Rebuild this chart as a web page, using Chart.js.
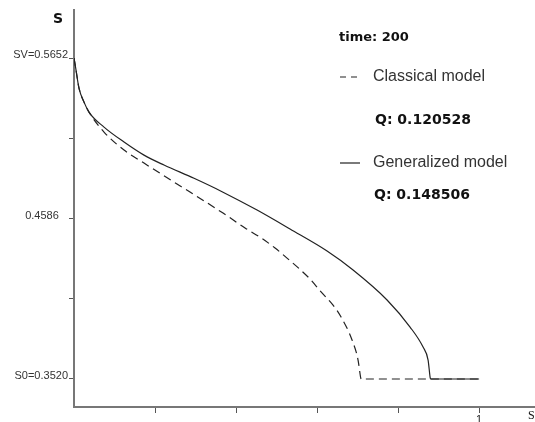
<!DOCTYPE html>
<html>
<head>
<meta charset="utf-8">
<script src="https://cdn.jsdelivr.net/npm/chart.js@4.4.1/dist/chart.umd.min.js"></script>
<style>
  html, body { margin: 0; padding: 0; background: #fff; }
  #wrap { width: 535px; height: 422px; position: relative; }
</style>
</head>
<body>
<div id="wrap"><canvas id="myChart"></canvas></div>
<script>
// values (x, S)
const classicalX = [0, 0.0042, 0.0123, 0.0247, 0.037, 0.0741, 0.1235, 0.1728, 0.2469, 0.2864, 0.3679, 0.4222, 0.4642, 0.4963, 0.5259, 0.5827, 0.6099, 0.6395, 0.6593, 0.6864, 0.7012, 0.7074, 0.7086, 1.0];
const classicalY = [0.5652, 0.5585, 0.5452, 0.5359, 0.5293, 0.5160, 0.5041, 0.4954, 0.4828, 0.4762, 0.4622, 0.4523, 0.4453, 0.4390, 0.4323, 0.4184, 0.4098, 0.4011, 0.3932, 0.3779, 0.3646, 0.3533, 0.3520, 0.3520];

const generalX = [0, 0.0042, 0.0123, 0.0247, 0.037, 0.0741, 0.1235, 0.1728, 0.2222, 0.2963, 0.3679, 0.4519, 0.5333, 0.6247, 0.6889, 0.7728, 0.8296, 0.8617, 0.8741, 0.879, 0.880, 1.0];
const generalY = [0.5652, 0.5585, 0.5452, 0.5359, 0.5293, 0.5193, 0.5094, 0.5007, 0.4941, 0.4853, 0.4761, 0.4642, 0.4516, 0.4370, 0.4244, 0.4045, 0.3865, 0.3732, 0.3646, 0.3533, 0.3520, 0.3520];

const yTicks = [0.3520, 0.4053, 0.4586, 0.5119, 0.5652];
const yTickLabels = ['S0=0.3520', '', '0.4586   ', '', 'SV=0.5652'];
const xTicks = [0.2, 0.4, 0.6, 0.8, 1];
const xTickLabels = ['', '', '', '', '1'];

const timeText = 'time: 200';
const classicalName = 'Classical model';
const classicalQ = 'Q: 0.120528';
const generalName = 'Generalized model';
const generalQ = 'Q: 0.148506';

function toPoints(xs, ys) {
  return xs.map((x, i) => ({ x: x, y: ys[i] }));
}

const textPlugin = {
  id: 'texts',
  afterDraw(chart) {
    const c = chart.ctx;
    c.save();
    c.fillStyle = '#111';
    c.textBaseline = 'middle';
    c.font = 'bold 14px "DejaVu Sans"';
    c.fillText('S', 53, 19);
    c.font = '12px "Liberation Serif"';
    c.fillText('S', 528, 416);

    c.font = 'bold 13px "DejaVu Sans"';
    c.fillText(timeText, 339, 38);

    c.strokeStyle = '#222';
    c.lineWidth = 1.2;
    c.setLineDash([6, 5]);
    c.beginPath(); c.moveTo(340, 77); c.lineTo(361, 77); c.stroke();
    c.setLineDash([]);
    c.beginPath(); c.moveTo(340, 163); c.lineTo(360, 163); c.stroke();

    c.fillStyle = '#333';
    c.font = '16px "Liberation Sans"';
    c.fillText(classicalName, 373, 77);
    c.fillText(generalName, 373, 163);

    c.fillStyle = '#111';
    c.font = 'bold 14px "DejaVu Sans"';
    c.fillText(classicalQ, 375, 120);
    c.fillText(generalQ, 374, 195);
    c.restore();
  }
};

const ctx = document.getElementById('myChart');
let myChart = new Chart(ctx, {
  type: 'line',
  data: {
    datasets: [{
      label: classicalName,
      data: toPoints(classicalX, classicalY),
      borderColor: '#222',
      borderWidth: 1.2,
      borderDash: [8, 5],
      pointRadius: 0,
      cubicInterpolationMode: 'monotone',
      fill: false
    }, {
      label: generalName,
      data: toPoints(generalX, generalY),
      borderColor: '#222',
      borderWidth: 1.2,
      pointRadius: 0,
      cubicInterpolationMode: 'monotone',
      fill: false
    }]
  },
  options: {
    responsive: true,
    maintainAspectRatio: false,
    animation: false,
    events: [],
    layout: { padding: { top: 10, right: 0, left: 0, bottom: 0 } },
    plugins: { legend: { display: false }, tooltip: { enabled: false } },
    scales: {
      x: {
        type: 'linear',
        min: 0,
        max: 1.138,
        afterBuildTicks: (scale) => { scale.ticks = xTicks.map(v => ({ value: v })); },
        afterFit: (scale) => { scale.height = 15; },
        ticks: {
          autoSkip: false,
          maxRotation: 0,
          padding: 0,
          color: '#222',
          font: { family: 'Liberation Sans', size: 11 },
          callback: (v, i) => xTickLabels[i]
        },
        grid: { drawOnChartArea: false, drawTicks: true, tickLength: 6, color: '#555', tickWidth: 1 },
        border: { display: true, color: '#777', width: 2 }
      },
      y: {
        type: 'linear',
        min: 0.3334,
        max: 0.5971,
        afterBuildTicks: (scale) => { scale.ticks = yTicks.map(v => ({ value: v })); },
        afterFit: (scale) => { scale.width = 74; },
        ticks: {
          autoSkip: false,
          padding: 1,
          labelOffset: -3,
          color: '#333',
          font: { family: 'Liberation Sans', size: 11 },
          callback: (v, i) => yTickLabels[i]
        },
        grid: { drawOnChartArea: false, drawTicks: true, tickLength: 5, color: '#555', tickWidth: 1 },
        border: { display: true, color: '#777', width: 2 }
      }
    }
  },
  plugins: [textPlugin]
});
</script>
</body>
</html>
